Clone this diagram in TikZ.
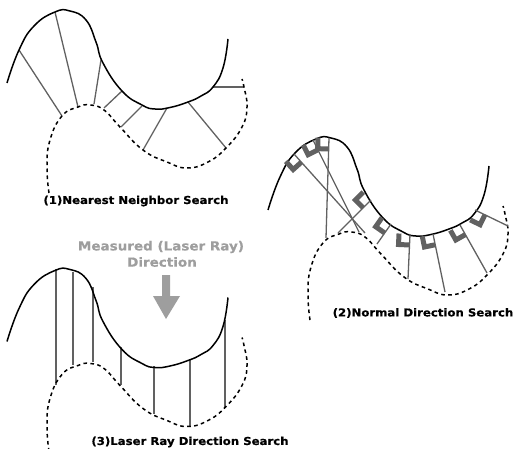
\documentclass[tikz,border=0pt]{standalone}
\usepackage{fontspec}
\setmainfont{DejaVu Sans}
\newfontfamily\capfont{DejaVu Sans}[FakeBold=0.5,FakeStretch=1.08]
\usetikzlibrary{calc}
\definecolor{raygray}{gray}{0.38}
\definecolor{txtgray}{gray}{0.62}
\tikzset{
  surface/.style={draw=black,line width=1.5pt},
  scan/.style={draw=black,line width=1.5pt,dash pattern=on 3.6pt off 3.4pt},
  ray/.style={draw=raygray,line width=1.3pt},
  mark bracket/.style={draw=raygray,line width=5pt,miter limit=10},
  caption/.style={font=\capfont\bfseries\fontsize{10.85}{12}\selectfont,inner sep=0pt,text=black},
  graycap/.style={font=\capfont\bfseries\fontsize{12.5}{14}\selectfont,inner sep=0pt,text=txtgray}
}
\newcommand{\solidcurve}{\draw[surface] plot[smooth,tension=0.8] coordinates {(7,83) (19,50) (34,26) (55,12) (70,11) (86,20) (96,42) (103,63) (122,91) (142,105) (155,109) (170,107.5) (188,102) (201,96) (213,87) (223,68) (228,39)};}
\newcommand{\dashcurve}{\draw[scan] plot[smooth,tension=0.8] coordinates {(49,193) (47,167) (50,140) (62,116) (78,107) (90,105) (104,110) (120,127) (143,150) (167,162) (187,168) (208,162) (226,148) (242,127) (247,107) (244,87) (242,79)};}
\newcommand{\searchray}[2]{\coordinate (f) at #1; \coordinate (e) at #2; \draw[ray] (f) -- (e);}
\newcommand{\normalmark}[2]{%
  \coordinate (f) at #1; \coordinate (e) at #2;
  \draw[mark bracket] ($(f)!11pt!(e)$) -- ($($(f)!11pt!(e)$)!11pt!-90:(e)$) -- ($(f)!11pt!-90:(e)$);
  \draw[ray] (f) -- (e);}
\begin{document}
\begin{tikzpicture}[x=1pt,y=-1pt]
\useasboundingbox (0,0) rectangle (514,449);
% (1)
\searchray{(19,50)}{(62,116)}
\searchray{(55,12)}{(78,107)}
\searchray{(101,60)}{(94,104)}
\searchray{(122,91)}{(104,108)}
\searchray{(142,106)}{(121,127)}
\searchray{(167,108)}{(143,150)}
\searchray{(188,102)}{(226,148)}
\searchray{(213,87)}{(244,87)}
\solidcurve
\dashcurve
\node[caption] (cap1) at (136,201) {(1)Nearest Neighbor Search};
% (2)
\begin{scope}[shift={(261,127)}]
\solidcurve
\dashcurve
\end{scope}
\normalmark{(329,138)}{(326,238)}
\normalmark{(313,140)}{(359,232)}
\normalmark{(294,154)}{(365,233)}
\normalmark{(371,200)}{(338,233)}
\normalmark{(391,224)}{(377,244)}
\normalmark{(410,234)}{(408,279)}
\normalmark{(433,234)}{(445,292)}
\normalmark{(460,225)}{(487,273)}
\normalmark{(475,210)}{(508,226)}
\node[caption] (cap2) at (423,313) {(2)Normal Direction Search};
% (3)
\searchray{(56,269)}{(56,385)}
\searchray{(73,272)}{(73,365)}
\searchray{(93,287)}{(93,362)}
\searchray{(121,347)}{(121,385)}
\searchray{(154,366)}{(154,414)}
\searchray{(190,359)}{(190,426)}
\searchray{(225,320)}{(225,408)}
\begin{scope}[shift={(0,258.5)}]
\solidcurve
\dashcurve
\end{scope}
\node[caption] (cap3) at (190,442) {(3)Laser Ray Direction Search};
\node[graycap] (meas) at (161,247) {Measured (Laser Ray)};
\node[graycap] (dirn) at (162,262) {Direction};
\fill[txtgray] (162,275) -- (170,275) -- (170,296) -- (180,296) -- (166,319) -- (153,296) -- (162,296) -- cycle;
\end{tikzpicture}
\end{document}
